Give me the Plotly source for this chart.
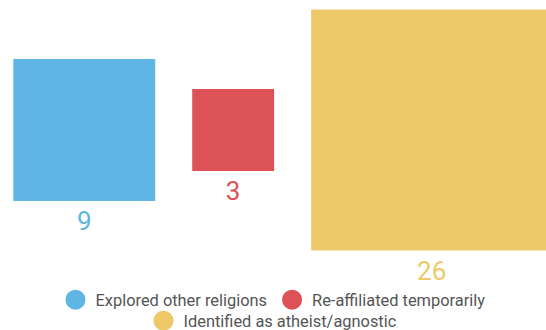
import math
import plotly.graph_objects as go

categories = ["Explored other religions", "Re-affiliated temporarily", "Identified as atheist/agnostic"]
values = [9, 3, 26]
colors = ["rgb(94,182,228)", "rgb(221,82,87)", "rgb(237,201,106)"]
legend_rows = ["legend", "legend", "legend2"]

W, H = 546, 330
K = 47.3          # px per sqrt(unit)
LEFT = 13.3
GAP = 37
YC = 130
LABEL_GAP = 10

sides = [K * math.sqrt(v) for v in values]
xs = []
left = LEFT
for s in sides:
    xs.append(left + s / 2)
    left += s + GAP

fig = go.Figure()
for c, v, col, x, s in zip(categories, values, colors, xs, sides):
    fig.add_trace(go.Scatter(
        x=[x], y=[YC], mode="markers",
        marker=dict(symbol="square", size=[v], sizemode="area", sizeref=2 / K**2,
                    color=col, opacity=1, line=dict(width=0)),
        showlegend=False, hoverinfo="skip", cliponaxis=False,
    ))
    fig.add_trace(go.Scatter(
        x=[x], y=[YC + s / 2 + LABEL_GAP], mode="text", text=[str(v)],
        textposition="bottom center",
        textfont=dict(family="Roboto", size=26, color=col),
        showlegend=False, hoverinfo="skip", cliponaxis=False,
    ))
for c, col, lg in zip(categories, colors, legend_rows):
    fig.add_trace(go.Scatter(
        x=[None], y=[None], mode="markers", name=c, legend=lg,
        marker=dict(symbol="circle", size=16, color=col, line=dict(width=4, color=col)),
    ))

leg_common = dict(orientation="h", x=0.5, xanchor="center", yanchor="middle",
                  font=dict(family="Roboto", size=16.4, color="#555555"),
                  bgcolor="rgba(0,0,0,0)", itemsizing="trace")
fig.update_layout(
    width=W, height=H,
    margin=dict(l=0, r=0, t=0, b=0, autoexpand=False),
    paper_bgcolor="white", plot_bgcolor="white",
    xaxis=dict(range=[0, W], visible=False, fixedrange=True),
    yaxis=dict(range=[H, 0], visible=False, fixedrange=True),
    showlegend=True,
    legend=dict(y=1 - 300 / H, **leg_common),
    legend2=dict(y=1 - 321 / H, **leg_common),
    font=dict(family="Roboto"),
)

fig.write_html("out.html")
